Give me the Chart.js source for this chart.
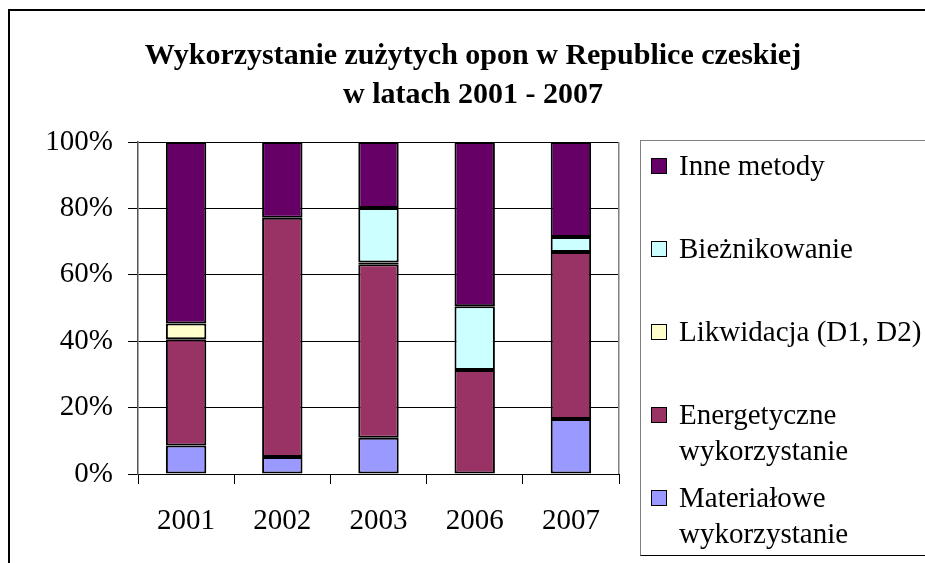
<!DOCTYPE html>
<html><head><meta charset="utf-8">
<script src="https://cdn.jsdelivr.net/npm/chart.js@4"></script>
<style>
html,body{margin:0;padding:0;background:#fff;overflow:hidden;}
#wrap{position:relative;width:925px;height:563px;overflow:hidden;background:#fff;}
#frame{position:absolute;left:8px;top:9px;width:940px;height:600px;border-left:2px solid #000;border-top:2px solid #000;pointer-events:none;}
#legend{position:absolute;left:640px;top:140px;width:320px;height:414px;border:1px solid #808080;border-bottom-color:#000;font-family:'Liberation Serif','Times New Roman',serif;font-size:29px;color:#000;}
.item{position:absolute;left:38px;line-height:36px;white-space:nowrap;}
.sw{position:absolute;left:-28px;top:11px;width:14px;height:14px;border:1.5px solid #000;}
canvas{position:absolute;left:0;top:0;}
</style></head>
<body>
<div id="wrap">
  <canvas id="c" width="925" height="563"></canvas>
  <div id="frame"></div>
  <div id="legend"></div>
</div>
<script>
const titleLines = ['Wykorzystanie zużytych opon w Republice czeskiej', 'w latach 2001 - 2007'];
const categories = ['2001', '2002', '2003', '2006', '2007'];
const seriesNames = ['Materiałowe wykorzystanie', 'Energetyczne wykorzystanie', 'Likwidacja (D1, D2)', 'Bieżnikowanie', 'Inne metody'];
const legendLabels = [['Materiałowe', 'wykorzystanie'], ['Energetyczne', 'wykorzystanie'], ['Likwidacja (D1, D2)'], ['Bieżnikowanie'], ['Inne metody']];
const materialowe = [8.6, 5.1, 10.9, 0, 16.6];
const energetyczne = [32.0, 72.1, 52.3, 31.3, 50.3];
const likwidacja = [4.7, 0, 0.5, 0, 0];
const bieznikowanie = [0, 0, 16.4, 19.2, 4.5];
const inne = [54.7, 22.8, 19.9, 49.5, 28.6];
const seriesColors = ['#9999FF', '#993366', '#FFFFCC', '#CCFFFF', '#660066'];
const yMin = 0, yMax = 100, yStep = 20;

const seriesValues = [materialowe, energetyczne, likwidacja, bieznikowanie, inne];
const FONT = "'Liberation Serif', 'Times New Roman', serif";

const titlePlugin = {
  id: 'customTitle',
  afterDraw(chart) {
    const ctx = chart.ctx;
    ctx.save();
    ctx.fillStyle = '#000';
    ctx.font = 'bold 30px ' + FONT;
    ctx.textAlign = 'center';
    ctx.textBaseline = 'alphabetic';
    const baselines = [64, 103];
    titleLines.forEach((t, i) => ctx.fillText(t, 473, baselines[i]));
    ctx.restore();
  }
};
const plotBorder = {
  id: 'plotBorder',
  beforeDatasetsDraw(chart) {
    const a = chart.chartArea, ctx = chart.ctx;
    ctx.save();
    ctx.strokeStyle = '#808080';
    ctx.lineWidth = 1.5;
    ctx.beginPath();
    ctx.moveTo(Math.round(a.right) - 0.25, a.top);
    ctx.lineTo(Math.round(a.right) - 0.25, a.bottom);
    ctx.stroke();
    ctx.restore();
  }
};

const chart = new Chart(document.getElementById('c'), {
  type: 'bar',
  data: {
    labels: categories,
    datasets: seriesNames.map((n, i) => ({
      label: n,
      data: seriesValues[i],
      backgroundColor: seriesColors[i],
      borderColor: '#000',
      borderWidth: 2,
      borderSkipped: false,
      barPercentage: 0.42,
      categoryPercentage: 1.0
    }))
  },
  options: {
    responsive: false,
    animation: false,
    devicePixelRatio: 1,
    layout: { padding: { top: 142, right: 306, left: 0, bottom: 0 } },
    plugins: { legend: { display: false }, title: { display: false }, tooltip: { enabled: false } },
    scales: {
      x: {
        stacked: true,
        offset: true,
        grid: { offset: true, drawOnChartArea: false, tickLength: 10, color: '#000', lineWidth: 1 },
        border: { color: '#000', width: 1 },
        ticks: { color: '#000', font: { family: FONT, size: 29 }, padding: 20, maxRotation: 0 },
        afterFit(s) { s.height = 89; }
      },
      y: {
        stacked: true,
        min: yMin, max: yMax,
        ticks: { stepSize: yStep, color: '#000', font: { family: FONT, size: 29 }, padding: 15, callback: v => v + '%' },
        grid: { color: '#000', lineWidth: 1, tickLength: 10 },
        border: { color: '#555', width: 1.5 },
        afterFit(s) { s.width = 138; }
      }
    }
  },
  plugins: [titlePlugin, plotBorder]
});

// HTML legend built from the chart datasets (reverse order, as in the original)
const legendEl = document.getElementById('legend');
const order = chart.data.datasets.map((d, i) => i).reverse();
order.forEach((dsIndex, k) => {
  const ds = chart.data.datasets[dsIndex];
  const item = document.createElement('div');
  item.className = 'item';
  item.style.top = (6 + k * 83.1) + 'px';
  const sw = document.createElement('span');
  sw.className = 'sw';
  sw.style.background = ds.backgroundColor;
  item.appendChild(sw);
  legendLabels[dsIndex].forEach((line, li) => {
    if (li) item.appendChild(document.createElement('br'));
    item.appendChild(document.createTextNode(line));
  });
  legendEl.appendChild(item);
});
</script>
</body></html>
